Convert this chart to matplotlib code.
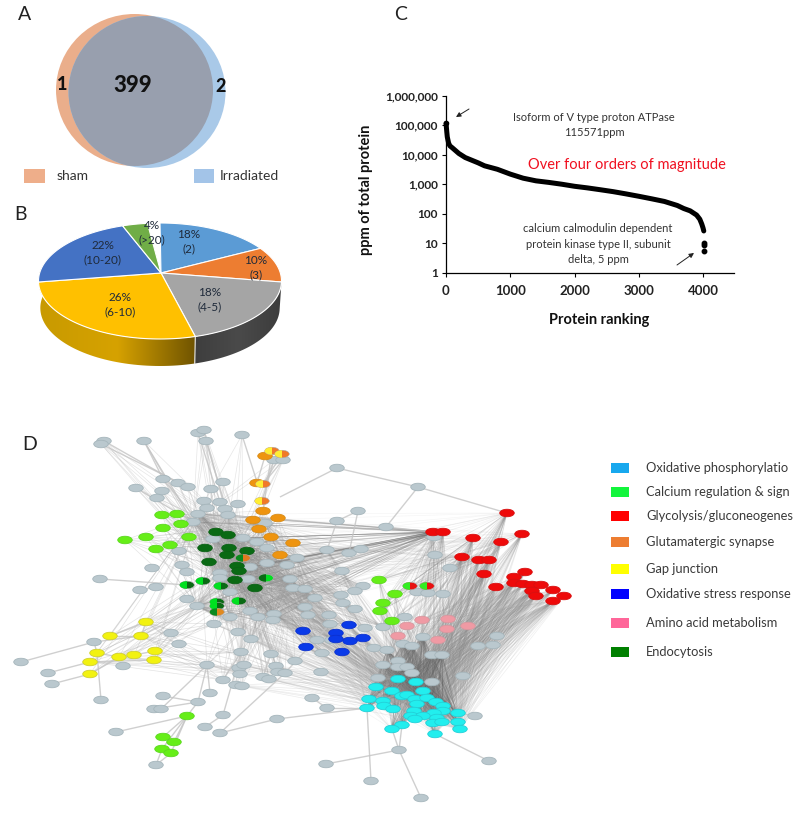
import numpy as np
import matplotlib
matplotlib.use("Agg")
import matplotlib.pyplot as plt
from matplotlib.collections import LineCollection
from matplotlib.patches import Ellipse, Polygon, Rectangle

plt.rcParams['font.family'] = ['Lato', 'DejaVu Sans']

# Panel A
venn_labels = ["1", "399", "2"]
venn_legend = ["sham", "Irradiated"]

# Panel B
pie_values = [18, 10, 18, 26, 22, 4]
pie_ranges = ["(2)", "(3)", "(4-5)", "(6-10)", "(10-20)", "(>20)"]
pie_colors = ["#5b9bd5", "#ed7d31", "#a5a5a5", "#ffc000", "#4472c4", "#70ad47"]

# Panel C
rank = [1, 5, 12, 20, 40, 60, 100, 200, 300, 500, 600, 800, 1000, 1200, 1400, 1600, 1800,
        2000, 2200, 2400, 2600, 2800, 3000, 3200, 3400, 3600, 3700, 3800, 3900, 3950, 3980, 4000, 4012]
ppm = [115571, 90000, 60000, 40000, 25000, 20000, 17000, 11000, 8000, 5300, 4200, 3200, 2200, 1600,
       1300, 1150, 1000, 850, 750, 650, 560, 470, 390, 320, 260, 190, 150, 125, 90, 65, 45, 33, 26]
tail_rank = [4015, 4015, 4015]
tail_ppm = [10.5, 9, 5.5]
ytick_vals = [1, 10, 100, 1000, 10000, 100000, 1000000]
ytick_labels = ["1", "10", "100", "1,000", "10,000", "100,000", "1,000,000"]

# Panel D, nodes in image pixels
gray_nodes = [(104,441),(101,444),(144,441),(198,433),(204,430),(206,441),(242,435),(274,460),(283,460),
    (163,479),(178,483),(188,487),(136,488),(162,491),(157,498),(211,489),(223,482),(204,501),(220,502),
    (238,504),(207,508),(225,509),(198,514),(228,515),(193,522),(265,523),(213,539),(243,538),(257,542),
    (267,548),(179,551),(152,568),(182,565),(187,572),(100,579),(140,590),(156,587),(220,573),(220,578),
    (248,579),(230,592),(187,599),(197,606),(214,624),(230,617),(250,611),(258,617),(274,614),(273,620),
    (171,633),(179,644),(94,642),(238,632),(251,639),(241,652),(271,654),(295,661),(123,666),(207,665),
    (21,662),(48,673),(52,684),(239,668),(244,665),(240,674),(276,666),(278,672),(285,673),(263,677),
    (269,679),(223,680),(236,685),(242,686),(101,700),(163,696),(210,693),(198,702),(154,709),(161,709),
    (223,715),(116,732),(205,727),(220,733),(277,719),(156,765),(297,558),(287,565),(290,579),(293,588),
    (267,563),(250,567),
    (337,468),(418,487),(358,511),(337,521),(386,527),(434,537),(327,550),(349,553),(361,549),(435,555),
    (450,568),(342,571),(363,586),(305,589),(341,595),(355,591),(315,598),(343,603),(355,609),(305,607),
    (308,615),(329,615),(330,624),(365,628),(383,627),(405,617),(417,592),(428,593),(443,594),(497,636),
    (478,646),(493,645),(423,637),(317,640),(332,640),(374,648),(387,650),(403,644),(412,646),(432,655),
    (442,655),(322,653),(321,672),(398,661),(383,665),(398,667),(407,667),(412,673),(378,678),(432,682),
    (463,676),(312,698),(327,708),(475,716),(399,750),(326,764),(489,761),(371,781),(421,798)]
cyan_nodes = [(398,679),(416,682),(376,687),(392,691),(423,691),(402,696),(407,695),(369,699),(383,701),
    (415,699),(427,698),(436,702),(417,704),(384,706),(367,708),(393,709),(443,706),(443,711),(414,711),
    (434,713),(458,713),(411,716),(423,716),(415,719),(437,718),(433,723),(442,722),(458,722),(402,725),
    (392,729),(460,729),(435,734)]
red_nodes = [(507,513),(433,532),(443,532),(473,538),(522,534),(501,542),(462,557),(479,560),(489,560),
    (525,572),(484,574),(514,577),(496,587),(514,583),(523,584),(532,585),(541,585),(532,591),(553,590),
    (536,596),(564,596),(553,601)]
pink_nodes = [(422,620),(448,619),(407,626),(447,629),(468,626),(398,636),(438,640)]
blue_nodes = [(349,625),(303,631),(336,633),(350,641),(363,638),(306,647),(342,652),(336,639)]
lime_nodes = [(162,515),(177,514),(163,528),(181,524),(146,537),(125,540),(189,537),(170,545),(156,549),
    (187,716),(163,737),(174,742),(162,749),(171,753),(379,580),(395,594),(383,603),(380,611),(392,621)]
dark_nodes = [(216,532),(228,535),(205,548),(229,548),(247,551),(227,555),(209,562),(237,566),(239,571),
    (235,580),(255,588)]
orange_nodes = [(265,456),(257,483),(263,511),(253,520),(278,518),(259,529),(271,537),(293,543),(280,555)]
yellow_nodes = [(146,622),(110,636),(141,636),(97,653),(119,657),(134,655),(155,651),(154,660),(90,662),(90,674)]
# nodes in two pathways: position, left colour, right colour
mixed_nodes = [((187,585),"#00e020","#0a6a14"),((203,581),"#00e020","#0a6a14"),((221,586),"#00e020","#0a6a14"),
    ((266,578),"#0a6a14","#00e020"),((217,602),"#00e020","#0a6a14"),((217,606),"#00e020","#0a6a14"),
    ((239,601),"#00e020","#0a6a14"),((410,586),"#33ee22","#e81010"),((427,586),"#33ee22","#e81010"),
    ((272,451),"#ffee33","#f07a28"),((282,454),"#ffee33","#f07a28"),((263,484),"#ffee33","#f07a28"),
    ((262,501),"#ffee33","#f07a28"),((217,612),"#0a8a20","#e08a20"),((243,558),"#0a8a20","#e07a20")]
side_edges = [((104,441),(178,483)),((101,444),(188,487)),((144,441),(193,522)),((144,441),(163,479)),
    ((206,441),(228,515)),((204,430),(225,509)),((198,433),(220,502)),((242,435),(258,485)),((136,488),(193,522)),
    ((163,479),(213,539)),((100,579),(187,585)),((140,590),(156,587)),((21,662),(94,642)),((48,673),(90,662)),
    ((52,684),(90,674)),((94,642),(141,636)),((94,642),(97,653)),((110,636),(146,622)),((116,732),(187,716)),
    ((163,737),(187,716)),((174,742),(187,716)),((162,749),(187,716)),((171,753),(187,716)),((156,765),(162,749)),
    ((156,765),(171,753)),((220,733),(277,719)),((277,719),(367,708)),((326,764),(399,750)),((399,750),(392,729)),
    ((399,750),(402,725)),((399,750),(421,798)),((371,781),(367,708)),((489,761),(435,734)),((475,716),(458,713)),
    ((337,468),(418,487)),((418,487),(507,513)),((337,468),(280,497)),((418,487),(386,527)),((358,511),(337,521)),
    ((358,511),(349,553)),((337,521),(327,550)),((386,527),(433,532)),((274,460),(262,501)),((283,460),(263,484)),
    ((265,456),(257,483)),((272,451),(263,511)),((282,454),(263,484)),((146,622),(141,636)),((110,636),(141,636)),
    ((97,653),(119,657)),((119,657),(134,655)),((134,655),(155,651)),((90,662),(154,660)),((90,674),(119,657)),
    ((163,696),(198,702)),((154,709),(198,702)),((161,709),(207,665)),((187,716),(198,702)),((205,727),(223,715)),
    ((210,693),(207,665)),((198,702),(207,665)),((223,715),(241,652)),((223,680),(241,652)),((239,668),(241,652)),
    ((263,677),(271,654)),((276,666),(241,652)),((285,673),(330,624)),((101,700),(97,653)),((312,698),(327,708)),
    ((327,708),(367,708)),((220,733),(285,673))]

# names are cut short like this in the source panel
legend_names = ["Oxidative phosphorylatio", "Calcium regulation & sign", "Glycolysis/gluconeogenes",
                "Glutamatergic synapse", "Gap junction", "Oxidative stress response",
                "Amino acid metabolism", "Endocytosis"]
legend_colors = ["#18a8ee", "#12f53c", "#ff0000", "#ed7d31", "#ffff00", "#0000ff", "#ff6699", "#008000"]
legend_rows = [468, 492, 516, 542, 569, 594, 623, 652]


fig = plt.figure(figsize=(8, 8.18), dpi=100)
ax = fig.add_axes([0, 0, 1, 1])
ax.set_xlim(0, 800)
ax.set_ylim(818, 0)
ax.axis("off")

TXT = "#333333"
for lab, x, y in [("A", 25, 15), ("B", 20, 214), ("C", 401, 15), ("D", 30, 444)]:
    ax.text(x, y, lab, fontsize=14, color="#222222", ha="center", va="center")

# A: venn
sham = Ellipse((134.5, 90), 157, 152, fc="#eaae8b", ec="none")
irr = Ellipse((147, 92), 157, 152, fc="#a9c9e8", ec="none")
ax.add_patch(sham)
ax.add_patch(irr)
both = Ellipse((147, 92), 157, 152, fc="#989fae", ec="none")
ax.add_patch(both)
both.set_clip_path(Ellipse((134.5, 90), 157, 152, transform=ax.transData))
ax.text(62, 85, venn_labels[0], fontsize=13, weight="black", ha="center", va="center", color="#111111")
ax.text(133, 85, venn_labels[1], fontsize=16, weight="black", ha="center", va="center", color="#111111")
ax.text(221, 87, venn_labels[2], fontsize=13, weight="black", ha="center", va="center", color="#111111")
ax.add_patch(Rectangle((24, 169), 21, 14, fc="#eeae8a", ec="none"))
ax.add_patch(Rectangle((194, 169), 20, 14, fc="#a3c4e8", ec="none"))
ax.text(57, 176, venn_legend[0], fontsize=10, ha="left", va="center", color=TXT)
ax.text(220, 176, venn_legend[1], fontsize=10, ha="left", va="center", color=TXT)

# B: 3d pie, rim points are pulled a bit to fake the perspective
cx, cy, rx, ry = 160, 281, 121.5, 58
apex = (161, 273)
depth = 27


def rim(theta, shrink=1.0, shift=0):
    t = np.radians(theta - 10 * np.sin(np.radians(theta)))
    return cx + rx * shrink * np.sin(t), cy - ry * np.cos(t) + shift


edges = np.concatenate([[0], np.cumsum(pie_values)]) * 3.6

# side wall, gradients clipped to the outline
grad = np.linspace(0, 1, 256).reshape(1, -1)
walls = [(edges[2], edges[3], ["#3e3e3e", "#4a4a4a", "#3c3c3c"]), (edges[3], 272, ["#c89a00", "#d6a200", "#6f5300"])]
for start, stop, cols in walls:
    th = np.linspace(start, stop, 60)
    xs, ys = rim(th)
    xb, yb = rim(th[::-1], 0.985, depth)
    outline = Polygon(np.r_[np.c_[xs, ys], np.c_[xb, yb]], fc="none", ec="none", transform=ax.transData)
    ax.add_patch(outline)
    cmap = matplotlib.colors.LinearSegmentedColormap.from_list("w", cols)
    im = ax.imshow(grad, extent=(min(xs.min(), xb.min()), max(xs.max(), xb.max()), 380, 220), cmap=cmap, aspect="auto", zorder=1)
    im.set_clip_path(outline)
ax.set_xlim(0, 800)
ax.set_ylim(818, 0)
x0, y0 = rim(edges[3])
x0b, y0b = rim(edges[3], 0.985, depth)
ax.plot([x0, x0b], [y0, y0b], color="#e8e8e8", lw=0.8, zorder=2)

for i, col in enumerate(pie_colors):
    th = np.linspace(edges[i], edges[i + 1], 60)
    xs, ys = rim(th)
    ax.add_patch(Polygon(np.r_[[apex], np.c_[xs, ys]], fc=col, ec="white", lw=0.8, zorder=3))

pie_label_xy = [(189, 242), (256, 268), (210, 300), (120, 305), (103, 253), (152, 233)]
for val, rng, (x, y) in zip(pie_values, pie_ranges, pie_label_xy):
    ax.text(x, y, f"{val}%\n{rng}", fontsize=8.5, ha="center", va="center", color="#1f2a3a", linespacing=1.35, zorder=5)

# D: network
core = [p for p in gray_nodes if 190 <= p[0] <= 300 and 510 <= p[1] <= 620]
middle = [p for p in gray_nodes if 300 < p[0] <= 385 and 540 <= p[1] <= 660]
column = [p for p in gray_nodes if 380 <= p[0] <= 445 and 635 <= p[1] <= 685]
low_core = [p for p in gray_nodes if 190 <= p[0] <= 300 and 620 < p[1] <= 690]
bundles = [
    (red_nodes, cyan_nodes, "#808080", 0.13, 0.5),
    (red_nodes[:9], core[::2], "#8a8a8a", 0.08, 0.5),
    (red_nodes[1:3], core[::1], "#707070", 0.30, 0.5),
    (cyan_nodes, core[::4], "#909090", 0.09, 0.5),
    (cyan_nodes, column, "#606060", 0.28, 0.6),
    (cyan_nodes[::2], middle[::3], "#909090", 0.10, 0.5),
    (core[::2], core[1::2], "#777777", 0.20, 0.5),
    (dark_nodes, core, "#777777", 0.22, 0.5),
    (dark_nodes, middle[::2], "#888888", 0.15, 0.5),
    (core[::3], middle, "#909090", 0.18, 0.5),
    (blue_nodes, core[::2], "#999999", 0.22, 0.5),
    (blue_nodes, cyan_nodes[::3], "#999999", 0.22, 0.5),
    (pink_nodes, cyan_nodes[::2], "#999999", 0.16, 0.5),
    (pink_nodes, red_nodes[::3], "#999999", 0.16, 0.5),
    (lime_nodes[14:], red_nodes[:8], "#888888", 0.22, 0.5),
    (lime_nodes[14:], cyan_nodes[::3], "#888888", 0.18, 0.5),
    (lime_nodes[:9], core[::3], "#a0a0a0", 0.28, 0.5),
    (yellow_nodes, core[::6], "#a8a8a8", 0.32, 0.5),
    (yellow_nodes[::2], low_core[::3], "#a8a8a8", 0.32, 0.5),
    (orange_nodes[2:], core[::3], "#a0a0a0", 0.28, 0.5),
    (low_core, core[::5], "#a0a0a0", 0.28, 0.5),
    (low_core[::2], cyan_nodes[::6], "#b0b0b0", 0.25, 0.5),
    (gray_nodes[:20], core[2:12:3], "#b0b0b0", 0.32, 0.5),
]
for a_nodes, b_nodes, col, alpha, lw in bundles:
    segs = [(a, b) for a in a_nodes for b in b_nodes]
    ax.add_collection(LineCollection(segs, colors=col, alpha=alpha, linewidths=lw, zorder=2))
ax.add_collection(LineCollection(side_edges, colors="#c4c4c4", alpha=0.8, linewidths=1.0, zorder=2))

W, H = 14.5, 7.5


def draw_nodes(nodes, fc, ec, z=4):
    for p in nodes:
        ax.add_patch(Ellipse(p, W, H, fc=fc, ec=ec, lw=0.6, zorder=z))


draw_nodes(gray_nodes, "#bac8ce", "#a6b6bc")
draw_nodes(cyan_nodes, "#22eeee", "#22d0d8", 5)
draw_nodes(red_nodes, "#ee0a0a", "#d81010", 5)
draw_nodes(pink_nodes, "#f09aa4", "#d898a0", 5)
draw_nodes(blue_nodes, "#0a3ae8", "#0a30d0", 5)
draw_nodes(lime_nodes, "#66ee18", "#5cd820", 5)
draw_nodes(dark_nodes, "#0a6a14", "#0a6214", 5)
draw_nodes(orange_nodes, "#ee9410", "#d88c18", 5)
draw_nodes(yellow_nodes, "#f2f210", "#d0d030", 5)
for p, left, right in mixed_nodes:
    ax.add_patch(Ellipse(p, W, H, fc=right, ec="#aaaaaa", lw=0.4, zorder=5))
    t = np.linspace(np.pi / 2, 3 * np.pi / 2, 30)
    half = np.c_[p[0] + W / 2 * np.cos(t), p[1] + H / 2 * np.sin(t)]
    ax.add_patch(Polygon(half, fc=left, ec="none", zorder=6))

# D legend
for name, col, row in zip(legend_names, legend_colors, legend_rows):
    ax.add_patch(Rectangle((611, row - 5), 18, 10, fc=col, ec="none"))
    ax.text(646, row, name, fontsize=9.3, ha="left", va="center", color="#3a3a3a")

# C: abundance curve
left, right, top, bottom = 446, 734.3, 95.7, 272.7
axc = fig.add_axes([left / 800, 1 - bottom / 818, (right - left) / 800, (bottom - top) / 818])
axc.patch.set_alpha(0)
axc.set_yscale("log")
axc.set_xlim(0, 4487)
axc.set_ylim(1, 1000000)
axc.plot(rank, ppm, color="black", lw=3.6, solid_capstyle="round", clip_on=False)
axc.plot(tail_rank, tail_ppm, "o", color="black", ms=3.2, clip_on=False)
axc.plot(rank[0], ppm[0], "o", color="black", ms=3, clip_on=False)
axc.spines["top"].set_visible(False)
axc.spines["right"].set_visible(False)
for s in ["left", "bottom"]:
    axc.spines[s].set_linewidth(0.9)
axc.set_yticks(ytick_vals)
axc.set_yticklabels(ytick_labels, fontsize=8.5, weight="bold", color="#222222")
axc.minorticks_off()
axc.set_xticks([0, 1000, 2000, 3000, 4000])
axc.set_xticklabels(["0", "1000", "2000", "3000", "4000"], fontsize=9.5, weight="bold", color="#222222")
axc.tick_params(axis="y", length=3, width=0.8, pad=3)
axc.tick_params(axis="x", length=3, width=0.8, pad=6)

ax.set_zorder(axc.get_zorder() + 1)
ax.text(599, 320, "Protein ranking", fontsize=10.5, weight="bold", ha="center", va="center", color="#111111")
ax.text(366, 190, "ppm of total protein", fontsize=10.5, weight="bold", rotation=90, ha="center", va="center", color="#111111")
ax.text(594, 125, "Isoform of V type proton ATPase\n115571ppm", fontsize=8, ha="center", va="center", color=TXT, linespacing=1.45)
ax.text(627, 165, "Over four orders of magnitude", fontsize=10.5, ha="center", va="center", color="#f01020")
ax.text(598, 244, "calcium calmodulin dependent\nprotein kinase type II, subunit\ndelta, 5 ppm", fontsize=8, ha="center", va="center", color=TXT, linespacing=1.45)
ax.annotate("", xy=(456, 117), xytext=(469, 109), arrowprops=dict(arrowstyle="-|>", color="#222222", lw=0.7, mutation_scale=7, shrinkA=0, shrinkB=0))
ax.annotate("", xy=(694, 253), xytext=(677, 265), arrowprops=dict(arrowstyle="-|>", color="#222222", lw=0.7, mutation_scale=7, shrinkA=0, shrinkB=0))

fig.savefig("out.png", dpi=100)
